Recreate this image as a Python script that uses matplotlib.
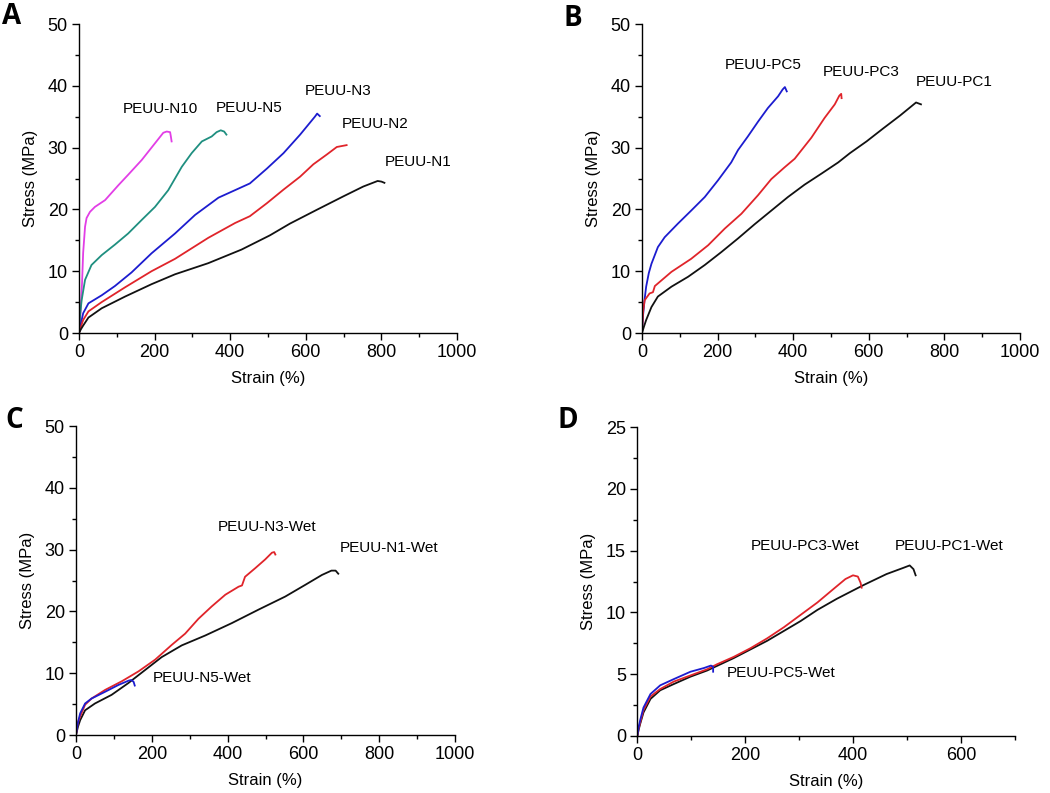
import matplotlib
matplotlib.use("Agg")
import matplotlib.pyplot as plt
from matplotlib.ticker import MultipleLocator

plt.rcParams['font.family'] = ['Liberation Sans', 'DejaVu Sans']

# ---------------- Panel A (dry, PEUU-N series) ----------------
n10_x = [0, 3, 8, 11, 14, 16, 20, 29, 42, 69, 104, 130, 166, 201, 223, 232, 241, 243, 245]
n10_y = [0, 2.0, 8.0, 13.0, 15.5, 17.2, 18.6, 19.6, 20.4, 21.5, 23.9, 25.6, 28.0, 30.7, 32.4, 32.6, 32.5, 31.8, 31.0]

n5_x = [0, 3, 7, 16, 33, 60, 95, 130, 166, 201, 236, 272, 298, 325, 351, 364, 375, 384, 390]
n5_y = [0, 3.0, 5.3, 8.6, 11.0, 12.6, 14.3, 16.1, 18.3, 20.4, 23.1, 26.9, 29.1, 31.0, 31.8, 32.5, 32.8, 32.6, 32.1]

n3_x = [0, 5, 11, 25, 60, 95, 139, 192, 254, 307, 369, 452, 497, 541, 585, 624, 630, 637]
n3_y = [0, 1.5, 3.2, 4.8, 6.1, 7.6, 9.8, 12.9, 16.1, 19.1, 21.9, 24.2, 26.6, 29.1, 32.1, 35.0, 35.5, 35.1]

n2_x = [0, 5, 11, 25, 60, 122, 192, 254, 342, 413, 452, 497, 541, 585, 620, 656, 682, 708]
n2_y = [0, 1.0, 2.1, 3.5, 5.0, 7.4, 10.0, 12.0, 15.4, 17.8, 18.9, 21.0, 23.2, 25.3, 27.3, 28.9, 30.1, 30.4]

n1_x = [0, 5, 11, 25, 60, 122, 192, 254, 342, 430, 505, 558, 628, 699, 752, 790, 800, 808]
n1_y = [0, 0.6, 1.2, 2.5, 4.0, 5.9, 7.9, 9.5, 11.3, 13.5, 15.8, 17.7, 19.9, 22.1, 23.7, 24.6, 24.5, 24.3]

# ---------------- Panel B (dry, PEUU-PC series) ----------------
pc5_x = [0, 3, 7, 11, 18, 25, 42, 60, 95, 130, 166, 201, 236, 254, 280, 307, 333, 360, 372, 378, 383]
pc5_y = [0, 3.0, 5.5, 7.5, 9.7, 11.2, 13.9, 15.5, 17.7, 19.8, 22.0, 24.7, 27.6, 29.6, 31.8, 34.2, 36.4, 38.3, 39.4, 39.8, 39.1]

pc3_x = [0, 3, 7, 20, 29, 34, 78, 130, 175, 219, 263, 307, 342, 377, 404, 448, 483, 510, 522, 527, 528]
pc3_y = [0, 3.5, 5.3, 6.4, 6.6, 7.6, 9.9, 12.0, 14.2, 16.9, 19.3, 22.3, 24.9, 26.8, 28.2, 31.6, 34.8, 37.0, 38.4, 38.7, 38.0]

pc1_x = [0, 5, 11, 25, 42, 78, 122, 166, 210, 254, 298, 342, 386, 430, 475, 519, 550, 594, 638, 683, 709, 725, 738]
pc1_y = [0, 1.0, 2.1, 4.2, 5.9, 7.5, 9.1, 11.0, 13.1, 15.3, 17.6, 19.8, 22.0, 24.0, 25.8, 27.6, 29.1, 31.0, 33.1, 35.2, 36.5, 37.3, 37.0]

# ---------------- Panel C (wet, PEUU-N series) ----------------
n3w_x = [0, 2, 5, 11, 24, 41, 77, 121, 165, 209, 253, 288, 323, 358, 394, 429, 438, 446, 473, 499, 517, 523, 526]
n3w_y = [0, 0.8, 2.0, 3.0, 4.9, 5.9, 7.3, 8.7, 10.3, 12.2, 14.6, 16.4, 18.8, 20.8, 22.7, 24.0, 24.2, 25.6, 27.0, 28.4, 29.5, 29.6, 29.2]

n1w_x = [0, 2, 5, 11, 24, 50, 94, 138, 182, 226, 279, 341, 411, 482, 552, 605, 649, 674, 685, 692]
n1w_y = [0, 0.5, 1.3, 2.4, 4.0, 5.1, 6.5, 8.4, 10.5, 12.6, 14.5, 16.1, 18.1, 20.3, 22.4, 24.3, 25.9, 26.6, 26.6, 26.1]

n5w_x = [0, 2, 5, 11, 24, 41, 77, 112, 139, 146, 152, 155]
n5w_y = [0, 0.8, 2.0, 3.5, 5.1, 5.9, 7.0, 8.1, 8.8, 8.9, 8.6, 8.0]

# ---------------- Panel D (wet, PEUU-PC series) ----------------
pc3w_x = [0, 1, 3, 6, 12, 25, 43, 68, 99, 130, 148, 179, 210, 241, 272, 303, 334, 364, 386, 400, 409, 414, 416]
pc3w_y = [0, 0.05, 0.6, 1.1, 2.1, 3.2, 3.8, 4.4, 4.9, 5.4, 5.8, 6.4, 7.1, 7.9, 8.8, 9.8, 10.8, 11.9, 12.7, 13.0, 12.9, 12.4, 12.0]

pc1w_x = [0, 1, 3, 6, 12, 25, 43, 68, 99, 130, 179, 241, 272, 303, 334, 370, 419, 462, 493, 505, 512, 516]
pc1w_y = [0, 0.05, 0.5, 1.0, 1.9, 3.0, 3.7, 4.2, 4.8, 5.3, 6.3, 7.7, 8.5, 9.3, 10.2, 11.1, 12.2, 13.1, 13.6, 13.8, 13.5, 13.0]

pc5w_x = [0, 1, 3, 6, 12, 25, 43, 68, 99, 124, 137, 141, 141]
pc5w_y = [0, 0.1, 0.7, 1.3, 2.3, 3.4, 4.1, 4.6, 5.2, 5.5, 5.7, 5.6, 5.2]

MAGENTA = '#e23ee6'
TEAL = '#1f8f80'
BLUE = '#1c1ccf'
RED = '#e0242a'
BLACK = '#111111'

fig = plt.figure(figsize=(10.5, 7.93), dpi=100)
W, H = 1050.0, 793.0


def make_ax(l, r, t, b):
    return fig.add_axes([l / W, 1 - b / H, (r - l) / W, (b - t) / H])


axA = make_ax(79, 457, 24, 333)
axB = make_ax(642, 1020, 24, 333)
axC = make_ax(76, 455, 426, 735)
axD = make_ax(637, 1015, 427, 736)

FS = 13
LFS_AX = 12
LW = 1.3


def style(ax, xmax, ymax, xmaj, ymaj):
    ax.set_xlim(0, xmax)
    ax.set_ylim(0, ymax)
    ax.spines['top'].set_visible(False)
    ax.spines['right'].set_visible(False)
    for s in ('left', 'bottom'):
        ax.spines[s].set_linewidth(1.0)
    ax.xaxis.set_major_locator(MultipleLocator(xmaj))
    ax.xaxis.set_minor_locator(MultipleLocator(xmaj / 2))
    ax.yaxis.set_major_locator(MultipleLocator(ymaj))
    ax.yaxis.set_minor_locator(MultipleLocator(ymaj / 2))
    ax.tick_params(which='major', direction='out', length=5, width=1.0, labelsize=FS, pad=3)
    ax.tick_params(which='minor', direction='out', length=3, width=1.0)
    ax.set_xlabel('Strain (%)', fontsize=LFS_AX, labelpad=7)
    ax.set_ylabel('Stress (MPa)', fontsize=LFS_AX, labelpad=7)


# Panel A
axA.plot(n10_x, n10_y, color=MAGENTA, lw=LW)
axA.plot(n5_x, n5_y, color=TEAL, lw=LW)
axA.plot(n3_x, n3_y, color=BLUE, lw=LW)
axA.plot(n2_x, n2_y, color=RED, lw=LW)
axA.plot(n1_x, n1_y, color=BLACK, lw=LW)
style(axA, 1000, 50, 200, 10)
LFS = 11
axA.text(116, 36.2, 'PEUU-N10', fontsize=LFS, va='center', ha='left')
axA.text(362, 36.4, 'PEUU-N5', fontsize=LFS, va='center', ha='left')
axA.text(598, 39.2, 'PEUU-N3', fontsize=LFS, va='center', ha='left')
axA.text(694, 33.8, 'PEUU-N2', fontsize=LFS, va='center', ha='left')
axA.text(810, 27.7, 'PEUU-N1', fontsize=LFS, va='center', ha='left')

# Panel B
axB.plot(pc5_x, pc5_y, color=BLUE, lw=LW)
axB.plot(pc3_x, pc3_y, color=RED, lw=LW)
axB.plot(pc1_x, pc1_y, color=BLACK, lw=LW)
style(axB, 1000, 50, 200, 10)
axB.text(218, 43.3, 'PEUU-PC5', fontsize=LFS, va='center', ha='left')
axB.text(478, 42.3, 'PEUU-PC3', fontsize=LFS, va='center', ha='left')
axB.text(725, 40.6, 'PEUU-PC1', fontsize=LFS, va='center', ha='left')

# Panel C
axC.plot(n1w_x, n1w_y, color=BLACK, lw=LW)
axC.plot(n3w_x, n3w_y, color=RED, lw=LW)
axC.plot(n5w_x, n5w_y, color=BLUE, lw=LW)
style(axC, 1000, 50, 200, 10)
axC.text(375, 33.7, 'PEUU-N3-Wet', fontsize=LFS, va='center', ha='left')
axC.text(696, 30.3, 'PEUU-N1-Wet', fontsize=LFS, va='center', ha='left')
axC.text(203, 9.3, 'PEUU-N5-Wet', fontsize=LFS, va='center', ha='left')

# Panel D
axD.plot(pc1w_x, pc1w_y, color=BLACK, lw=LW)
axD.plot(pc3w_x, pc3w_y, color=RED, lw=LW)
axD.plot(pc5w_x, pc5w_y, color=BLUE, lw=LW)
style(axD, 700, 25, 200, 5)
axD.xaxis.set_minor_locator(MultipleLocator(100))
axD.yaxis.set_minor_locator(MultipleLocator(2.5))
axD.text(211, 15.35, 'PEUU-PC3-Wet', fontsize=LFS, va='center', ha='left')
axD.text(478, 15.4, 'PEUU-PC1-Wet', fontsize=LFS, va='center', ha='left')
axD.text(167, 5.1, 'PEUU-PC5-Wet', fontsize=LFS, va='center', ha='left')

# Panel letters
for lab, x, y in [('A', 2, 2), ('B', 563, 4), ('C', 5, 406), ('D', 557, 406)]:
    fig.text(x / W, 1 - y / H, lab, fontsize=20, fontweight='bold',
             family=['Open Sans', 'DejaVu Sans'], ha='left', va='top')

fig.savefig('out.png', dpi=100, facecolor='white')
